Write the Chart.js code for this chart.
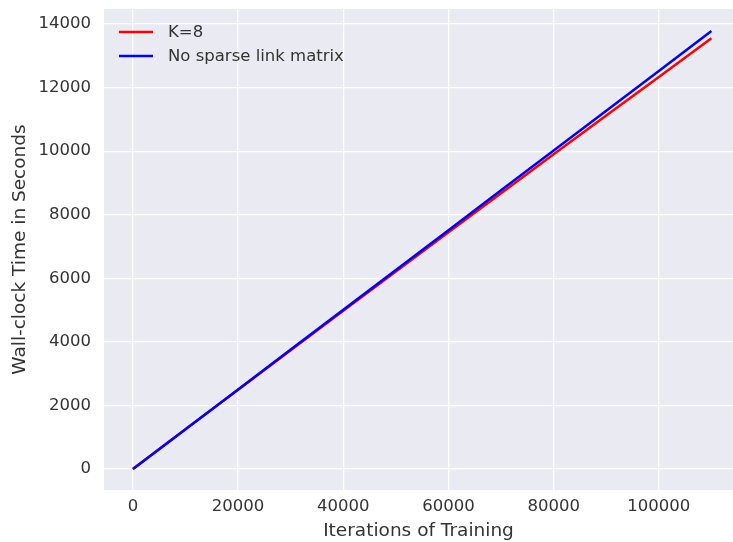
<!DOCTYPE html>
<html><head><meta charset="utf-8">
<script src="https://cdn.jsdelivr.net/npm/chart.js@4"></script>
<style>html,body{margin:0;padding:0;background:#fff}#wrap{width:733px;height:542px}</style>
</head><body><div id="wrap"><canvas id="c" width="733" height="542"></canvas></div>
<script>
const iterations = [0, 10000, 20000, 30000, 40000, 50000, 60000, 70000, 80000, 90000, 100000, 110000];
const sparseK8 = [0, 1250, 2495, 3740, 4980, 6215, 7445, 8675, 9900, 11120, 12335, 13550];
const noSparse = [0, 1253, 2505, 3758, 5010, 6263, 7515, 8768, 10020, 11273, 12525, 13780];
const seriesNames = ['K=8', 'No sparse link matrix'];
const xTicks = [0, 20000, 40000, 60000, 80000, 100000];
const yTicks = [0, 2000, 4000, 6000, 8000, 10000, 12000, 14000];

const FONT = 'DejaVu Sans';
const TXT = '#333333';

const bgPlugin = {
  id: 'bg',
  beforeDraw(chart) {
    const {ctx, chartArea: a} = chart;
    ctx.save();
    ctx.fillStyle = '#EAEAF2';
    ctx.fillRect(a.left, a.top, a.right - a.left, a.bottom - a.top);
    ctx.restore();
  }
};
const legendPlugin = {
  id: 'inlegend',
  afterDatasetsDraw(chart) {
    const {ctx, chartArea: a} = chart;
    ctx.save();
    ctx.font = '16.5px ' + FONT;
    ctx.textBaseline = 'middle';
    chart.data.datasets.forEach((ds, i) => {
      const y = a.top + 23 + i * 24;
      const x0 = a.left + 15;
      ctx.strokeStyle = ds.borderColor;
      ctx.lineWidth = 2.4;
      ctx.beginPath(); ctx.moveTo(x0, y); ctx.lineTo(x0 + 34, y); ctx.stroke();
      ctx.fillStyle = TXT;
      ctx.fillText(ds.label, x0 + 49, y + 1);
    });
    ctx.restore();
  }
};
const noPad = s => { s.paddingTop = 0; s.paddingBottom = 0; s.paddingLeft = 0; s.paddingRight = 0; };

new Chart(document.getElementById('c'), {
  type: 'line',
  data: {
    datasets: [
      {label: seriesNames[0], order: 1, data: iterations.map((x, i) => ({x, y: sparseK8[i]})), borderColor: '#ff0000', borderWidth: 2.5, pointRadius: 0, tension: 0, fill: false},
      {label: seriesNames[1], order: 0, data: iterations.map((x, i) => ({x, y: noSparse[i]})), borderColor: '#0000ff', borderWidth: 2.5, pointRadius: 0, tension: 0, fill: false}
    ]
  },
  options: {
    responsive: false, animation: false,
    layout: {padding: {top: 9, right: 0, bottom: 0, left: 0}},
    plugins: {legend: {display: false}, tooltip: {enabled: false}},
    scales: {
      x: {
        type: 'linear', min: -5500, max: 114100,
        afterBuildTicks: s => { s.ticks = xTicks.map(v => ({value: v})); },
        afterFit: s => { s.height = 52; noPad(s); },
        grid: {color: '#ffffff', lineWidth: 1.3, drawTicks: false},
        border: {display: false},
        ticks: {padding: 7, color: TXT, font: {family: FONT, size: 16.5}, callback: v => String(v), maxRotation: 0},
        title: {display: true, text: 'Iterations of Training', color: TXT, font: {family: FONT, size: 18.5}, padding: {top: 0, bottom: 0}}
      },
      y: {
        type: 'linear', min: -660, max: 14472,
        afterBuildTicks: s => { s.ticks = yTicks.map(v => ({value: v})); },
        afterFit: s => { s.width = 104; noPad(s); },
        grid: {color: '#ffffff', lineWidth: 1.3, drawTicks: false},
        border: {display: false},
        ticks: {padding: 13, color: TXT, font: {family: FONT, size: 16.5}, callback: v => String(v)},
        title: {display: true, text: 'Wall-clock Time in Seconds', color: TXT, font: {family: FONT, size: 18.5}, padding: {top: 9, bottom: 0}}
      }
    }
  },
  plugins: [bgPlugin, legendPlugin]
});
</script></body></html>
